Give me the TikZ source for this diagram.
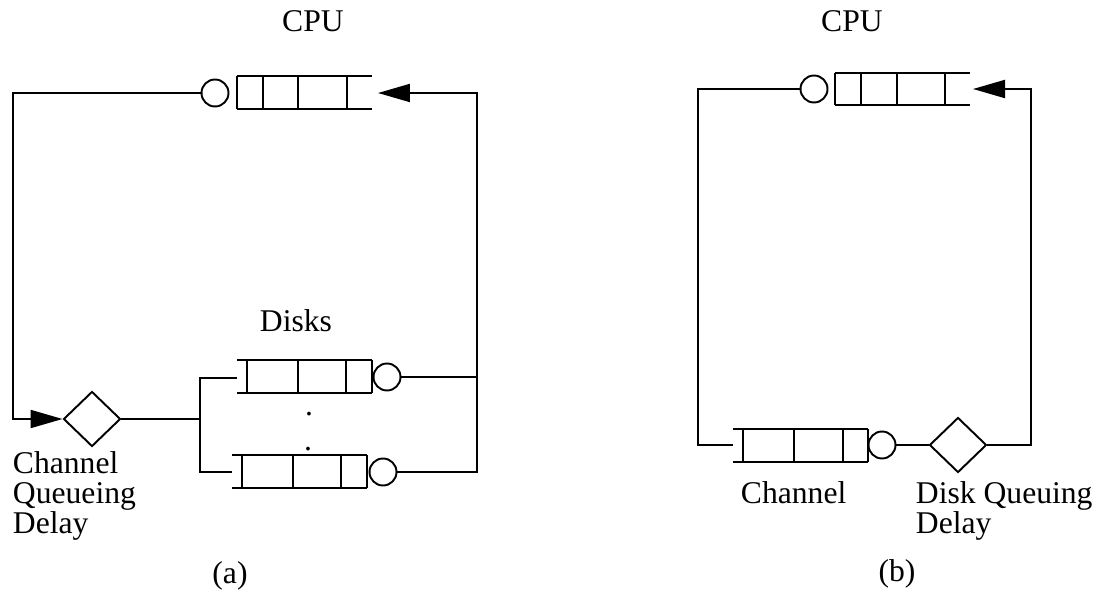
\documentclass[tikz,border=0pt]{standalone}
\usepackage{fontspec}
\setmainfont{Liberation Serif}
\usetikzlibrary{arrows.meta,shapes,positioning,calc}

\begin{document}
\begin{tikzpicture}[x=0.02cm, y=-0.02cm, line width=1.1pt,
    server/.style={draw, circle, inner sep=0pt, minimum size=0.54cm},
    delay/.style={draw, diamond, inner sep=0pt, minimum width=1.14cm, minimum height=1.1cm},
    lbl/.style={font=\fontsize{18}{17}\selectfont, inner sep=0pt},
    flow/.style={-{Triangle[length=0.64cm 0, width=0.36cm 0]}}]

  \useasboundingbox (0,0) rectangle (1102,594);

  % ---------------- (a) ----------------
  % CPU queue, open on the right
  \node[lbl, anchor=base] (cpuA) at (313,32) {CPU};
  \draw (237,76) -- (372,76) (237,109) -- (372,109);
  \foreach \x in {237,263,298,347} \draw (\x,76) -- (\x,109);
  \node[server] (srvA) at (215,93) {};
  \coordinate (tipA) at (378,93);
  \coordinate (upA) at (477,93);
  \coordinate (loopA) at (13,419);

  % Channel
  \node[delay] (chanA) at (92,419) {};
  \node[lbl, anchor=north west, align=left] (chanlblA) at (12,451) {Channel\\Queueing\\Delay};
  \coordinate (forkA) at (200,419);

  % Disks
  \node[lbl, anchor=base] (disksA) at (296,332) {Disks};
  \draw (237,360) -- (372,360) (237,393) -- (372,393);
  \foreach \x in {247,298,346,372} \draw (\x,360) -- (\x,393);
  \node[server] (dsk1A) at (387,377) {};
  \coordinate (d1in) at (237,378);
  \draw (232,455) -- (367,455) (232,488) -- (367,488);
  \foreach \x in {242,293,341,367} \draw (\x,455) -- (\x,488);
  \node[server] (dsk2A) at (383,472) {};
  \coordinate (d2in) at (232,472);
  \node[lbl, anchor=base] (dot1) at (309,416) {.};
  \node[lbl, anchor=base] (dot2) at (308,450) {.};

  % connectors
  \draw[flow] (srvA.west) -| (loopA) -- (chanA.west);
  \draw (chanA.east) -- (forkA);
  \draw (d1in) -| (forkA) |- (d2in);
  \draw (dsk1A.east) -- (dsk1A.east -| upA);
  \draw[flow] (dsk2A.east) -| (upA) -- (tipA);

  \node[lbl] (capA) at (230,576) {(a)};

  % ---------------- (b) ----------------
  % CPU queue, open on the right
  \node[lbl, anchor=base] (cpuB) at (852,32) {CPU};
  \draw (835,73) -- (970,73) (835,105) -- (970,105);
  \foreach \x in {835,861,897,945} \draw (\x,73) -- (\x,105);
  \node[server] (srvB) at (814,89) {};
  \coordinate (tipB) at (973,89);
  \coordinate (upB) at (1031,89);
  \coordinate (loopB) at (698,445);

  % Channel queue, open on the left
  \draw (733,429) -- (868,429) (733,462) -- (868,462);
  \foreach \x in {743,794,843,868} \draw (\x,429) -- (\x,462);
  \node[server] (chsrvB) at (882,445) {};
  \coordinate (chinB) at (733,445);
  \node[delay] (dskB) at (958,445) {};
  \node[lbl, anchor=base west] (chlblB) at (740,503) {Channel};
  \node[lbl, anchor=north west, align=left] (dsklblB) at (915,481) {Disk Queuing\\Delay};

  % connectors
  \draw (srvB.west) -| (loopB) -- (chinB);
  \draw (chsrvB.east) -- (dskB.west);
  \draw[flow] (dskB.east) -| (upB) -- (tipB);

  \node[lbl] (capB) at (897,574) {(b)};

\end{tikzpicture}
\end{document}
